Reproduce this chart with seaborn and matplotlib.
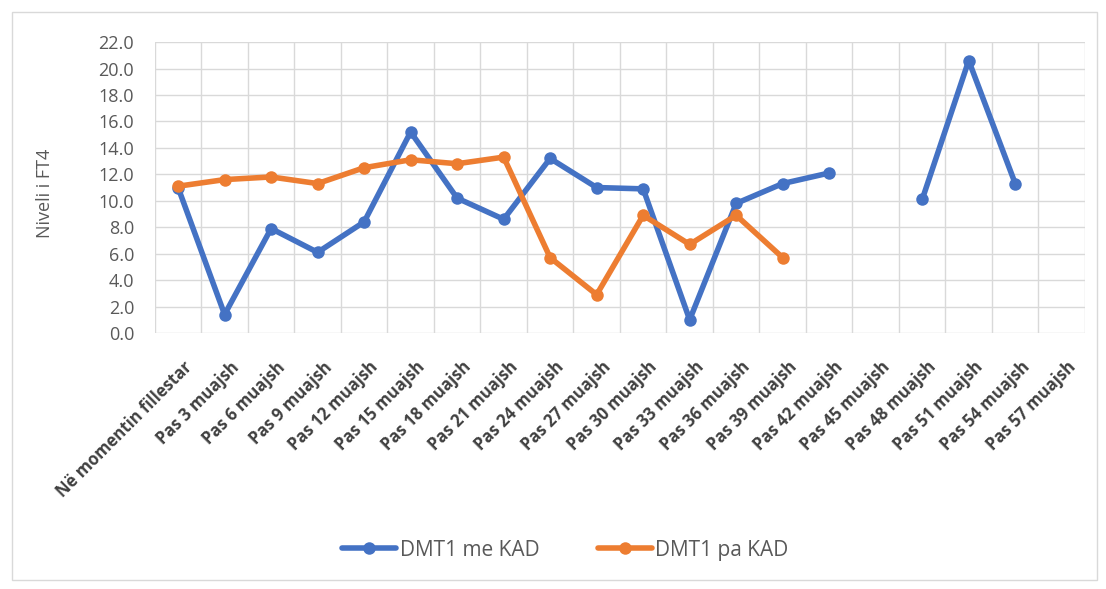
import numpy as np
import pandas as pd
import matplotlib
matplotlib.use("Agg")
import matplotlib.pyplot as plt
from matplotlib.patches import Rectangle
from matplotlib.lines import Line2D
from matplotlib.transforms import ScaledTranslation
import seaborn as sns

categories = ["Në momentin fillestar"] + [f"Pas {m} muajsh" for m in range(3, 58, 3)]
me_kad = [11.0, 1.4, 7.9, 6.1, 8.4, 15.2, 10.2, 8.6, 13.2, 11.0, 10.9, 1.0, 9.8, 11.3,
          12.1, np.nan, 10.1, 20.6, 11.3, np.nan]
pa_kad = [11.1, 11.6, 11.8, 11.3, 12.5, 13.1, 12.8, 13.3, 5.7, 2.9, 8.9, 6.7, 8.9, 5.7,
          np.nan, np.nan, np.nan, np.nan, np.nan, np.nan]
series_names = ["DMT1 me KAD", "DMT1 pa KAD"]
colors = ["#4472C4", "#ED7D31"]
y_ticks = np.arange(0, 22.01, 2.0)


def to_long(values, name):
    """Long-form rows; a gap (NaN) starts a new segment so lines break there."""
    rows = []
    seg = 0
    prev_nan = True
    for i, v in enumerate(values):
        if np.isnan(v):
            prev_nan = True
            continue
        if prev_nan:
            seg += 1
            prev_nan = False
        rows.append({"pos": i, "value": v, "series": name, "segment": f"{name}-{seg}"})
    return rows


df = pd.DataFrame(to_long(me_kad, series_names[0]) + to_long(pa_kad, series_names[1]))

sns.set_theme(style="white")
plt.rcParams["font.family"] = ["Open Sans", "DejaVu Sans"]

fig = plt.figure(figsize=(11.06, 5.89), dpi=100)
ax = fig.add_axes([0.140, 0.4346, 0.841, 0.494])

# outer chart border
fig.patches.append(Rectangle((0.0108, 0.0153), 0.981, 0.964, transform=fig.transFigure,
                             fill=False, edgecolor="#d9d9d9", linewidth=1.0))

sns.lineplot(data=df, x="pos", y="value", hue="series", units="segment",
             estimator=None, palette=dict(zip(series_names, colors)),
             hue_order=series_names, linewidth=4.0, marker="o", markersize=9,
             markeredgewidth=0, legend=False, ax=ax, sort=False)

ax.set_xlim(-0.5, len(categories) - 0.5)
ax.set_ylim(0, 22)
ax.set_yticks(y_ticks)
ax.set_yticklabels([f"{t:.1f}" for t in y_ticks], fontsize=13, color="#595959")
ax.tick_params(axis="y", length=0, pad=15)

ax.set_xticks(range(len(categories)))
ax.set_xticklabels(categories, rotation=45, ha="right", va="top",
                   rotation_mode="anchor", fontsize=12, fontweight="bold",
                   color="#404040")
ax.tick_params(axis="x", length=0, pad=18)
shift = ScaledTranslation(0.05, 0, fig.dpi_scale_trans)
for lbl in ax.get_xticklabels():
    lbl.set_transform(lbl.get_transform() + shift)

ax.set_xlabel("")
ax.set_ylabel("Niveli i FT4", fontsize=13, color="#595959", va="center")
ax.yaxis.set_label_coords(-0.118, 0.48)

# grid: horizontal at each tick, vertical between categories
for t in y_ticks:
    ax.axhline(t, color="#d9d9d9", linewidth=1.0, zorder=0)
for b in np.arange(-0.5, len(categories), 1.0):
    ax.axvline(b, color="#d9d9d9", linewidth=1.0, zorder=0)
for s in ax.spines.values():
    s.set_visible(False)

handles = [Line2D([0], [0], color=c, linewidth=4.0, marker="o", markersize=9,
                  markeredgewidth=0) for c in colors]
fig.legend(handles, series_names, loc="center", bbox_to_anchor=(0.511, 0.066), ncol=2,
           frameon=False, fontsize=15, handlelength=2.6, numpoints=1,
           columnspacing=2.8, handletextpad=0.15, labelcolor="#595959")

fig.savefig("out.png", dpi=100, facecolor="white")
